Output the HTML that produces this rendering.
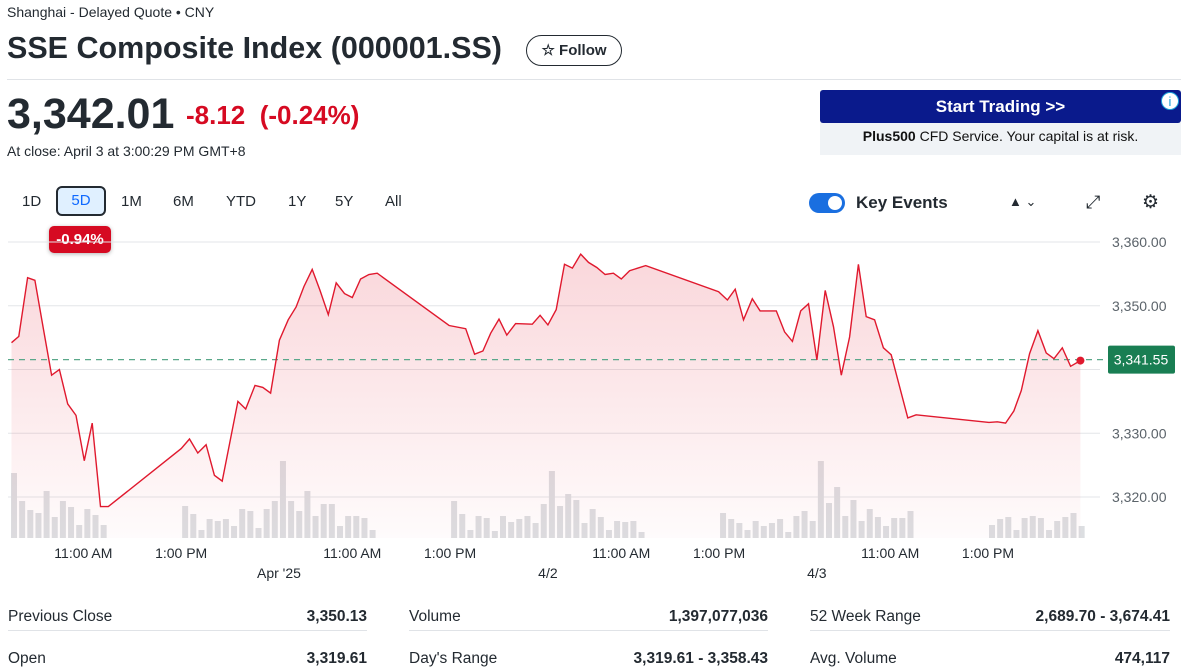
<!DOCTYPE html>
<html><head><meta charset="utf-8"><style>
body{margin:0;width:1185px;height:672px;overflow:hidden;background:#fff;font-family:"Liberation Sans",sans-serif;color:#232a31;position:relative}
.a{position:absolute;white-space:nowrap}
.rb{position:absolute;top:193px;font-size:15px;color:#232a31}
.st{font-size:15.5px;position:absolute;white-space:nowrap}
.r{text-align:right;font-weight:bold}
</style></head><body>
<div class="a" style="left:7px;top:4px;font-size:14px">Shanghai - Delayed Quote • CNY</div>
<div class="a" style="left:7px;top:31px;font-size:30.5px;font-weight:bold">SSE Composite Index (000001.SS)</div>
<div class="a" style="left:526px;top:35px;width:96px;height:31px;border:1px solid #232a31;border-radius:16px;box-sizing:border-box;font-size:15px;font-weight:bold;line-height:29px;text-align:center">☆ Follow</div>
<div class="a" style="left:7px;top:79px;width:1174px;height:1px;background:#e0e3e7"></div>
<div class="a" style="left:7px;top:90px;font-size:43px;font-weight:bold">3,342.01</div>
<div class="a" style="left:186px;top:100px;font-size:26px;font-weight:bold;color:#d60a22">-8.12 &nbsp;(-0.24%)</div>
<div class="a" style="left:7px;top:143px;font-size:14px">At close: April 3 at 3:00:29 PM GMT+8</div>
<div class="a" style="left:820px;top:90px;width:361px;height:65px;background:#f0f3f6">
<div style="height:33px;background:#0a1a8c;border-radius:3px;color:#fff;font-weight:bold;font-size:17px;text-align:center;line-height:33px">Start Trading &gt;&gt;</div>
<div style="position:absolute;right:2px;top:2px;width:18px;height:18px;background:#fff;color:#1aa0d8;font-size:13px;text-align:center;line-height:18px;border-radius:9px;border:1px solid #1aa0d8;box-sizing:border-box">i</div>
<div style="font-size:14px;text-align:center;margin-top:5px;color:#111"><b>Plus500</b> CFD Service. Your capital is at risk.</div></div>
<div class="rb" style="left:22px">1D</div>
<div class="a" style="left:56px;top:186px;width:50px;height:30px;border:2px solid #232a31;border-radius:6px;box-sizing:border-box;background:#e0f0ff;color:#0f69ff;font-size:15px;text-align:center;line-height:26px">5D</div>
<div class="rb" style="left:121px">1M</div>
<div class="rb" style="left:173px">6M</div>
<div class="rb" style="left:226px">YTD</div>
<div class="rb" style="left:288px">1Y</div>
<div class="rb" style="left:335px">5Y</div>
<div class="rb" style="left:385px">All</div>
<div class="a" style="left:49px;top:226px;width:62px;height:27px;background:#d60a22;color:#fff;border-radius:5px;font-weight:bold;font-size:15px;text-align:center;line-height:27px;box-shadow:0 1px 4px rgba(0,0,0,.3)">-0.94%</div>
<div class="a" style="left:809px;top:193px;width:36px;height:20px;border-radius:10px;background:#1a6fe0"><div style="position:absolute;right:3px;top:3px;width:14px;height:14px;border-radius:7px;background:#fff"></div></div>
<div class="a" style="left:856px;top:193px;font-size:17px;font-weight:bold">Key Events</div>
<div class="a" style="left:1009px;top:194px;font-size:13px">▲ ⌄</div>
<div class="a" style="left:1086px;top:192px;font-size:18px">⤢</div>
<div class="a" style="left:1142px;top:191px;font-size:19px">⚙</div>
<svg class="a" style="left:0;top:230px" width="1185" height="360" id="ch"></svg>
<div>
<div class="st" style="left:8px;top:608px">Previous Close</div>
<div class="st r" style="left:200px;width:167px;top:608px">3,350.13</div>
<div class="st" style="left:409px;top:608px">Volume</div>
<div class="st r" style="left:568px;width:200px;top:608px">1,397,077,036</div>
<div class="st" style="left:810px;top:608px">52 Week Range</div>
<div class="st r" style="left:970px;width:200px;top:608px">2,689.70 - 3,674.41</div>
<div class="a" style="left:8px;top:630px;width:359px;height:1px;background:#e0e3e7"></div>
<div class="a" style="left:409px;top:630px;width:359px;height:1px;background:#e0e3e7"></div>
<div class="a" style="left:810px;top:630px;width:360px;height:1px;background:#e0e3e7"></div>
<div class="st" style="left:8px;top:650px">Open</div>
<div class="st r" style="left:200px;width:167px;top:650px">3,319.61</div>
<div class="st" style="left:409px;top:650px">Day's Range</div>
<div class="st r" style="left:568px;width:200px;top:650px">3,319.61 - 3,358.43</div>
<div class="st" style="left:810px;top:650px">Avg. Volume</div>
<div class="st r" style="left:970px;width:200px;top:650px">474,117</div>
</div>
<script>
const times=[0.03,0.18,0.36,0.51,0.69,0.85,1.01,1.18,1.35,1.52,1.68,1.85,2.01,3.50,3.67,3.84,4.01,4.18,4.34,4.66,4.82,5.01,5.17,5.33,5.51,5.69,5.85,6.01,6.18,6.34,6.51,6.67,6.84,7.00,7.17,7.34,7.51,8.98,9.32,9.50,9.67,9.83,10.00,10.16,10.34,10.68,10.84,11.00,11.17,11.34,11.50,11.67,11.83,12.00,12.17,12.34,12.50,12.67,13.00,14.49,14.67,14.83,15.00,15.18,15.34,15.67,15.84,16.00,16.17,16.33,16.50,16.67,16.84,17.00,17.17,17.35,17.51,17.68,17.86,18.02,18.36,18.53,20.02,20.19,20.36,20.53,20.68,20.85,21.02,21.19,21.35,21.52,21.69,21.89];
const prices=[3344.2,3345.2,3354.4,3354.0,3346.1,3339.1,3340.0,3334.6,3332.8,3325.7,3331.6,3318.5,3318.5,3327.6,3329.1,3326.9,3328.2,3323.4,3322.5,3335.0,3333.8,3337.5,3337.2,3336.3,3344.6,3347.8,3349.8,3353.0,3355.7,3352.4,3348.6,3353.6,3351.9,3351.3,3354.2,3354.9,3355.1,3346.9,3346.4,3342.4,3342.9,3345.7,3347.9,3345.4,3347.2,3347.1,3348.5,3347.0,3349.4,3356.5,3355.9,3358.1,3356.8,3356.0,3354.9,3355.1,3354.2,3355.5,3356.3,3352.2,3350.9,3352.6,3347.8,3351.1,3349.2,3349.2,3345.9,3344.4,3349.2,3350.3,3341.5,3352.4,3346.7,3339.1,3345.1,3356.5,3348.3,3347.8,3343.4,3342.3,3332.4,3332.9,3331.7,3331.8,3331.6,3333.5,3336.7,3342.5,3346.1,3342.6,3341.7,3343.4,3340.5,3341.4];
const volumes=[65,37,28,25,47,21,37,31,13,29,23,13, 32,24,8,19,17,19,12,29,27,10,29,37, 77,37,27,47,22,34,34,12,22,22,20,8, 37,24,8,22,20,7,22,16,19,22,15,34, 67,32,44,38,15,29,21,8,17,16,17,6, 25,19,15,8,17,12,15,19,6,22,27,17, 77,35,51,22,38,17,29,21,12,20,20,27, 13,19,21,8,20,22,20,8,17,21,25,12];
const yTicks=[3360,3350,3330,3320];
const gridVals=[3360,3350,3340,3330,3320];
const prevClose=3341.55;
const xLabels=[["11:00 AM",1.5],["1:00 PM",3.5],["11:00 AM",7.0],["1:00 PM",9.0],["11:00 AM",12.5],["1:00 PM",14.5],["11:00 AM",18.0],["1:00 PM",20.0]];
const dayLabels=[["Apr '25",5.5],["4/2",11.0],["4/3",16.5]];
const NS="http://www.w3.org/2000/svg",svg=document.getElementById('ch');
const OY=230;
const X=t=>10+t*48.9;
const Y=v=>242+(3360-v)*6.375-OY;
function mk(tag,at){const e=document.createElementNS(NS,tag);for(const k in at)e.setAttribute(k,at[k]);svg.appendChild(e);return e;}
const defs=mk('defs',{});defs.innerHTML='<linearGradient id="g" x1="0" y1="0" x2="0" y2="1"><stop offset="0" stop-color="#e8485a" stop-opacity="0.22"/><stop offset="1" stop-color="#e8485a" stop-opacity="0.02"/></linearGradient>';
gridVals.forEach(v=>{const l=mk('line',{x1:8,x2:1100,y1:Y(v),y2:Y(v),stroke:'#e3e5e8','stroke-width':1});

});
yTicks.forEach(v=>{const t=mk('text',{x:1112,y:Y(v)+5,'font-size':14,fill:'#5b636a','font-family':'Liberation Sans'});t.textContent=v.toLocaleString('en-US',{minimumFractionDigits:2});

});
const vBase=538-OY,vMax=Math.max(...volumes);
volumes.forEach((v,i)=>{const d=Math.floor(i/24),r=i%24,s=r<12?0:3.5;const t=d*5.5+s+(r%12)/6;
const b=mk('rect',{x:X(t)+1,y:vBase-v/vMax*77,width:6,height:v/vMax*77,fill:'#dcdee1'});

});
let pts=times.map((t,i)=>X(t).toFixed(1)+','+Y(prices[i]).toFixed(1));
const area=mk('path',{d:'M'+X(times[0])+','+vBase+' L'+pts.join(' L')+' L'+X(times[times.length-1])+','+vBase+'Z',fill:'url(#g)'});


const pc=mk('line',{x1:8,x2:1105,y1:Y(prevClose),y2:Y(prevClose),stroke:'#5aa88a','stroke-width':1.3,'stroke-dasharray':'6,5'});


const line=mk('polyline',{points:pts.join(' '),fill:'none',stroke:'#e0192e','stroke-width':1.4});


const dot=mk('circle',{cx:X(times[times.length-1]),cy:Y(prices[prices.length-1]),r:4,fill:'#e0192e'});


const lb=mk('rect',{x:1108,y:Y(prevClose)-14,width:67,height:28,rx:2,fill:'#197e53'});


const lt=mk('text',{x:1141,y:Y(prevClose)+5,'font-size':14,fill:'#fff','text-anchor':'middle','font-family':'Liberation Sans'});lt.textContent=prevClose.toLocaleString('en-US',{minimumFractionDigits:2});


xLabels.forEach(([s,t])=>{const e=mk('text',{x:X(t),y:328,'font-size':14,fill:'#232a31','text-anchor':'middle','font-family':'Liberation Sans'});e.textContent=s;

});
dayLabels.forEach(([s,t])=>{const e=mk('text',{x:X(t),y:348,'font-size':14,fill:'#232a31','text-anchor':'middle','font-family':'Liberation Sans'});e.textContent=s;

});
</script>
</body></html>
